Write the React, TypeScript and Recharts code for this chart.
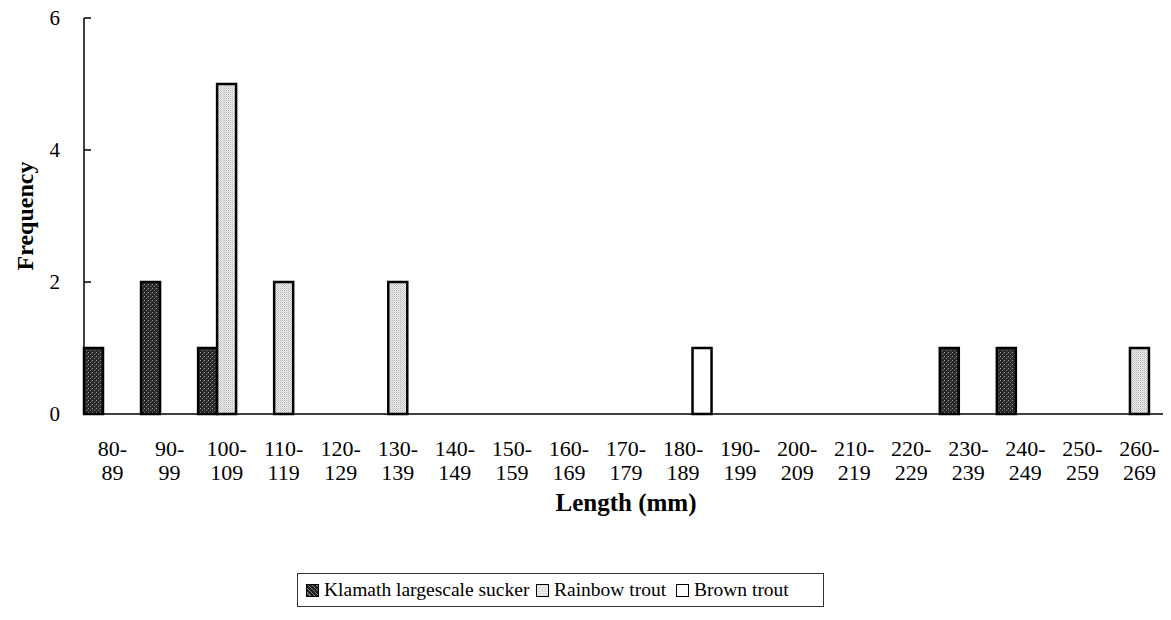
import React from "react";
import { BarChart, Bar, XAxis, YAxis } from "recharts";

const categories = ["80-89","90-99","100-109","110-119","120-129","130-139","140-149","150-159","160-169","170-179","180-189","190-199","200-209","210-219","220-229","230-239","240-249","250-259","260-269"];
const klamath = [1,2,1,0,0,0,0,0,0,0,0,0,0,0,0,1,1,0,0];
const rainbow = [0,0,5,2,0,2,0,0,0,0,0,0,0,0,0,0,0,0,1];
const brown =   [0,0,0,0,0,0,0,0,0,0,1,0,0,0,0,0,0,0,0];
const yTicks = [0, 2, 4, 6];
const seriesNames = ["Klamath largescale sucker", "Rainbow trout", "Brown trout"];

const data = categories.map((c, i) => ({ cat: c, klamath: klamath[i], rainbow: rainbow[i], brown: brown[i] }));
const boundaryTicks = categories.map((_, i) => i).concat([categories.length]);

const FONT = "'Liberation Serif', 'Times New Roman', serif";

const XTick = (props: any) => {
  const { x, y, payload } = props;
  const parts = String(payload.value).split("-");
  return (
    <text x={x} y={y} textAnchor="middle" fontFamily={FONT} fontSize={22} fill="#000">
      <tspan x={x} dy={42}>{parts[0] + "-"}</tspan>
      <tspan x={x} dy={24}>{parts[1]}</tspan>
    </text>
  );
};

const swatch = (bg: string) => ({
  display: "inline-block",
  width: 11,
  height: 11,
  border: "1.5px solid #000",
  background: bg,
  marginRight: 5,
  verticalAlign: "-1px",
} as React.CSSProperties);

const legendLefts = [8, 238, 378];

export default function App() {
  const swatchBgs = [
    "repeating-linear-gradient(45deg,#222 0 2px,#777 2px 3px)",
    "repeating-linear-gradient(0deg,#d8d8d8 0 1px,#f2f2f2 1px 2px)",
    "#fff",
  ];
  return (
    <div style={{ position: "relative", width: 1163, height: 612, marginTop: -8 }}>
      <BarChart
        width={1163}
        height={612}
        data={data}
        margin={{ top: 18, right: 3, left: 0, bottom: 0 }}
        barCategoryGap={0}
        barGap={0}
      >
        <defs>
          <pattern id="pKlamath" width="4" height="4" patternUnits="userSpaceOnUse">
            <rect width="4" height="4" fill="#2a2a2a" />
            <rect x="0" y="0" width="1" height="1" fill="#999" />
            <rect x="2" y="2" width="1" height="1" fill="#777" />
            <rect x="3" y="1" width="1" height="1" fill="#555" />
          </pattern>
          <pattern id="pRainbow" width="2" height="2" patternUnits="userSpaceOnUse">
            <rect width="2" height="2" fill="#eeeeee" />
            <rect x="0" y="0" width="1" height="1" fill="#b8b8b8" />
            <rect x="1" y="1" width="1" height="1" fill="#cfcfcf" />
          </pattern>
        </defs>
        <XAxis
          xAxisId="b"
          type="number"
          domain={[0, categories.length]}
          ticks={boundaryTicks}
          height={0}
          axisLine={false}
          tickSize={-6}
          tickLine={{ stroke: "#000", strokeWidth: 1.5 }}
          tick={() => <g />}
          interval={0}
        />
        <XAxis
          dataKey="cat"
          height={198}
          axisLine={{ stroke: "#000", strokeWidth: 1.5 }}
          tickLine={false}
          tickSize={0}
          tickMargin={0}
          interval={0}
          tick={<XTick />}
          label={{
            value: "Length (mm)",
            position: "insideTop",
            offset: 79,
            style: { fontFamily: FONT, fontSize: 25, fontWeight: "bold", fill: "#000" },
          }}
        />
        <YAxis
          width={76}
          domain={[0, 6]}
          ticks={yTicks}
          interval={0}
          axisLine={{ stroke: "#000", strokeWidth: 1.5 }}
          tickLine={{ stroke: "#000", strokeWidth: 1.5 }}
          tickSize={-7}
          tickMargin={31}
          tick={{ fontFamily: FONT, fontSize: 21, fill: "#000" }}
          label={{
            value: "Frequency",
            angle: -90,
            position: "insideLeft",
            dx: 11,
            style: { fontFamily: FONT, fontSize: 24, fontWeight: "bold", fill: "#000", textAnchor: "middle" },
          }}
        />
        <Bar dataKey="klamath" name={seriesNames[0]} fill="url(#pKlamath)" stroke="#000" strokeWidth={2.5} isAnimationActive={false} />
        <Bar dataKey="rainbow" name={seriesNames[1]} fill="url(#pRainbow)" stroke="#000" strokeWidth={2.5} isAnimationActive={false} />
        <Bar dataKey="brown" name={seriesNames[2]} fill="#ffffff" stroke="#000" strokeWidth={2.5} isAnimationActive={false} />
      </BarChart>
      <div
        style={{
          position: "absolute",
          left: 289,
          top: 573,
          width: 527,
          height: 34,
          boxSizing: "border-box",
          border: "1px solid #333",
          fontFamily: FONT,
          fontSize: 19.5,
          color: "#000",
          whiteSpace: "nowrap",
          lineHeight: "24px",
        }}
      >
        {seriesNames.map((n, i) => (
          <span key={n} style={{ position: "absolute", left: legendLefts[i], top: 4 }}>
            <span style={swatch(swatchBgs[i])} />
            {n}
          </span>
        ))}
      </div>
    </div>
  );
}
